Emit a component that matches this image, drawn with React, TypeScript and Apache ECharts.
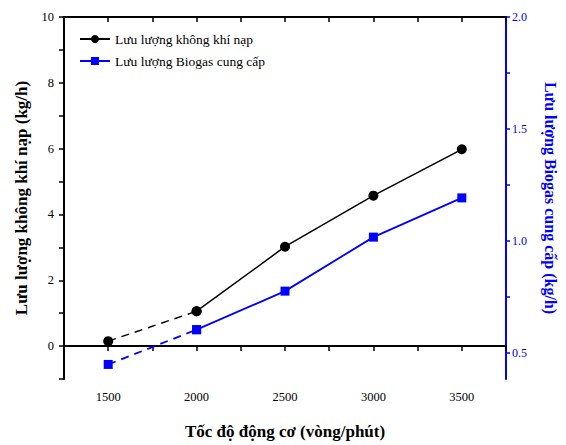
import React, { useEffect, useRef } from "react";
import * as echarts from "echarts";

const speeds = [1500, 2000, 2500, 3000, 3500];
const airFlow = [0.15, 1.06, 3.02, 4.57, 5.98];
const biogasFlow = [0.45, 0.605, 0.777, 1.018, 1.193];
const xTickValues = [1250, 1500, 1750, 2000, 2250, 2500, 2750, 3000, 3250, 3500, 3750];
const xLabelValues = [1500, 2000, 2500, 3000, 3500];
const leftTickValues = [-1, 0, 1, 2, 3, 4, 5, 6, 7, 8, 9, 10];
const leftLabelValues = [0, 2, 4, 6, 8, 10];
const rightTickValues = [0.5, 0.75, 1.0, 1.25, 1.5, 1.75, 2.0];
const rightLabelValues = [0.5, 1.0, 1.5, 2.0];

const airName = "Lưu lượng không khí nạp";
const bioName = "Lưu lượng Biogas cung cấp";
const FONT = "'Liberation Serif', 'Times New Roman', serif";
const BLUE = "#0000ff";

export default function App() {
  const ref = useRef<HTMLDivElement>(null);
  useEffect(() => {
    if (!ref.current) return;
    const chart = echarts.init(ref.current, null, { renderer: "svg" });
    const pairs = (xs: number[], ys: number[], from: number, to: number) =>
      xs.slice(from, to).map((x, i) => [x, ys[from + i]]);
    chart.setOption({
      animation: false,
      textStyle: { fontFamily: FONT },
      grid: { left: 64, right: 55, top: 17, bottom: 63.5 },
      legend: {
        data: [airName, bioName],
        orient: "vertical",
        left: 74,
        top: 27,
        itemGap: 8,
        itemWidth: 30,
        itemHeight: 10,
        textStyle: { fontFamily: FONT, fontSize: 13.5, color: "#000" },
      },
      xAxis: [
        {
          type: "value",
          min: 1250,
          max: 3750,
          name: "Tốc độ động cơ (vòng/phút)",
          nameLocation: "middle",
          nameGap: 44,
          nameTextStyle: { fontFamily: FONT, fontSize: 17, fontWeight: "bold", color: "#000" },
          axisLine: { show: true, lineStyle: { color: "#000", width: 2 } },
          axisTick: { show: true, customValues: xTickValues, length: 5, lineStyle: { color: "#000", width: 1.5 } },
          axisLabel: {
            customValues: xLabelValues,
            formatter: (v: number) => String(v),
            color: "#000",
            fontFamily: FONT,
            fontSize: 12.5,
            margin: 11,
          },
          splitLine: { show: false },
        },
        {
          type: "value",
          position: "top",
          min: 1250,
          max: 3750,
          axisLine: { show: true, lineStyle: { color: "#000", width: 2 } },
          axisTick: { show: true, inside: true, customValues: xTickValues, length: 5, lineStyle: { color: "#000", width: 1.5 } },
          axisLabel: { show: false },
          splitLine: { show: false },
        },
      ],
      yAxis: [
        {
          type: "value",
          min: -1,
          max: 10,
          position: "left",
          name: "Lưu lượng không khí nạp (kg/h)",
          nameLocation: "middle",
          nameRotate: 90,
          nameGap: 34,
          nameTextStyle: { fontFamily: FONT, fontSize: 17, fontWeight: "bold", color: "#000" },
          axisLine: { show: true, lineStyle: { color: "#000", width: 2 } },
          axisTick: { show: true, customValues: leftTickValues, length: 5, lineStyle: { color: "#000", width: 1.5 } },
          axisLabel: {
            customValues: leftLabelValues,
            formatter: (v: number) => String(v),
            color: "#000",
            fontFamily: FONT,
            fontSize: 12.5,
            margin: 10,
          },
          splitLine: { show: false },
        },
        {
          type: "value",
          min: 0.385,
          max: 2.0,
          position: "right",
          name: "Lưu lượng Biogas cung cấp (kg/h)",
          nameLocation: "middle",
          nameRotate: -90,
          nameGap: 36,
          nameTextStyle: { fontFamily: FONT, fontSize: 16, fontWeight: "bold", color: BLUE },
          axisLine: { show: true, lineStyle: { color: BLUE, width: 2 } },
          axisTick: { show: true, customValues: rightTickValues, length: 4, lineStyle: { color: BLUE, width: 1.5 } },
          axisLabel: {
            customValues: rightLabelValues,
            formatter: (v: number) => v.toFixed(1),
            color: BLUE,
            fontFamily: FONT,
            fontSize: 12,
            margin: 6,
          },
          splitLine: { show: false },
        },
      ],
      series: [
        {
          name: "air-dashed",
          type: "line",
          xAxisIndex: 0,
          yAxisIndex: 0,
          data: pairs(speeds, airFlow, 0, 2),
          symbol: "circle",
          symbolSize: 10,
          itemStyle: { color: "#000" },
          lineStyle: { color: "#000", width: 1.5, type: [8, 6] },
        },
        {
          name: airName,
          type: "line",
          xAxisIndex: 0,
          yAxisIndex: 0,
          data: pairs(speeds, airFlow, 1, 5),
          symbol: "circle",
          symbolSize: 10,
          itemStyle: { color: "#000" },
          lineStyle: { color: "#000", width: 1.5 },
        },
        {
          name: "bio-dashed",
          type: "line",
          xAxisIndex: 0,
          yAxisIndex: 1,
          data: pairs(speeds, biogasFlow, 0, 2),
          symbol: "rect",
          symbolSize: 9,
          itemStyle: { color: BLUE },
          lineStyle: { color: BLUE, width: 1.8, type: [8, 6] },
        },
        {
          name: bioName,
          type: "line",
          xAxisIndex: 0,
          yAxisIndex: 1,
          data: pairs(speeds, biogasFlow, 1, 5),
          symbol: "rect",
          symbolSize: 9,
          itemStyle: { color: BLUE },
          lineStyle: { color: BLUE, width: 1.8 },
        },
      ],
    });
    return () => chart.dispose();
  }, []);
  return <div ref={ref} style={{ width: 566, height: 445, position: "absolute", left: 0, top: 0 }} />;
}
